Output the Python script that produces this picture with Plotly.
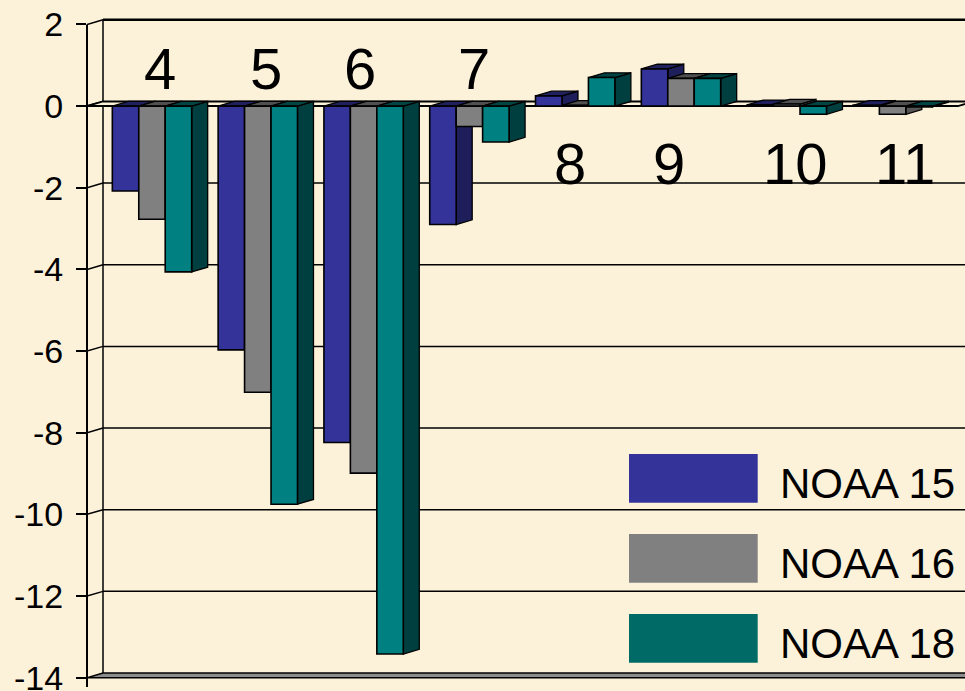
import plotly.graph_objects as go

# ---------------- data ----------------
channels = ["4", "5", "6", "7", "8", "9", "10", "11"]
series_names = ["NOAA 15", "NOAA 16", "NOAA 18"]
noaa15 = [-2.08, -5.97, -8.24, -2.90, 0.25, 0.91, 0.03, 0.02]
noaa16 = [-2.77, -7.01, -8.99, -0.50, 0.02, 0.68, 0.05, -0.20]
noaa18 = [-4.06, -9.75, -13.42, -0.88, 0.70, 0.68, -0.20, -0.02]
y_tick_vals = [2, 0, -2, -4, -6, -8, -10, -12, -14]
y_tick_text = ["2", "0", "-2", "-4", "-6", "-8", "-10", "-12", "-14"]

front_colors = ["#333399", "#808080", "#008080"]
side_colors = ["#1E1E5A", "#555555", "#003F3F"]
top_colors = ["#20205E", "#505050", "#004444"]
legend_colors = ["#333399", "#808080", "#006B66"]

series = [noaa15, noaa16, noaa18]

# ---------------- geometry (3D look) ----------------
BG = "#FCF2DA"
W, H = 965, 691
ML = 87
PX_PER_CAT = 105.8
CAT0_PX = 152.0
PX_PER_UNIT = 40.83
ZERO_PX = 106.1
# hand placement nudges of the channel labels (pixels), as in the original slide
label_nudge_px = [0, 0, -12, -3, -13, -20, 1, 4]

x_min = (ML - CAT0_PX) / PX_PER_CAT
x_max = (W - CAT0_PX) / PX_PER_CAT
y_max = ZERO_PX / PX_PER_UNIT
y_min = -(H - ZERO_PX) / PX_PER_UNIT

BAR_W = 0.25
OFFSETS = [-0.375, -0.125, 0.125]
DX = 16 / PX_PER_CAT
DY = 4.7 / PX_PER_UNIT
X_FRONT_RIGHT = (958 - CAT0_PX) / PX_PER_CAT
X_BACK_LEFT = x_min + DX
y_lo, y_hi = min(y_tick_vals), max(y_tick_vals)

fig = go.Figure()
for s, (name, vals) in enumerate(zip(series_names, series)):
    fig.add_trace(go.Bar(
        x=list(range(len(channels))), y=vals, name=name,
        width=BAR_W, offset=OFFSETS[s],
        marker=dict(color=front_colors[s], line=dict(color="black", width=1.6)),
        showlegend=False, hoverinfo="skip",
    ))

shapes = []
line_k = dict(color="black", width=1.5)

# back wall gridlines + left wall connectors
for v in y_tick_vals:
    if v == y_lo:
        continue
    if v != 0:
        shapes.append(dict(type="line", xref="x", yref="y", layer="below",
                           x0=X_BACK_LEFT, x1=x_max + 1, y0=v + DY, y1=v + DY,
                           line=dict(color="black", width=2.5 if v == y_hi else 1.5)))
    shapes.append(dict(type="line", xref="x", yref="y", layer="below",
                       x0=x_min, x1=X_BACK_LEFT, y0=v, y1=v + DY, line=line_k))
# left wall back edge
shapes.append(dict(type="line", xref="x", yref="y", layer="below",
                   x0=X_BACK_LEFT, x1=X_BACK_LEFT, y0=y_lo + DY, y1=y_hi + DY, line=line_k))
# floor
shapes.append(dict(type="path", xref="x", yref="y", layer="below",
                   path=f"M {x_min},{y_lo} L {x_max + 1},{y_lo} L {x_max + 1},{y_lo + DY} "
                        f"L {X_BACK_LEFT},{y_lo + DY} Z",
                   fillcolor="#8C8C8C", line=line_k))
# zero plane
shapes.append(dict(type="path", xref="x", yref="y", layer="below",
                   path=f"M {x_min},0 L {X_FRONT_RIGHT},0 L {X_FRONT_RIGHT + DX},{DY} "
                        f"L {X_BACK_LEFT},{DY} Z",
                   fillcolor=BG, line=dict(color="black", width=2)))
# bar sides and tops
for s, vals in enumerate(series):
    for i, v in enumerate(vals):
        xl = i + OFFSETS[s]
        xr = xl + BAR_W
        shapes.append(dict(type="path", xref="x", yref="y", layer="below",
                           path=f"M {xr},0 L {xr + DX},{DY} L {xr + DX},{v + DY} L {xr},{v} Z",
                           fillcolor=side_colors[s], line=dict(color="black", width=1.3)))
        t = max(v, 0)
        shapes.append(dict(type="path", xref="x", yref="y", layer="below",
                           path=f"M {xl},{t} L {xr},{t} L {xr + DX},{t + DY} L {xl + DX},{t + DY} Z",
                           fillcolor=top_colors[s], line=dict(color="black", width=1.3)))
# front axis line
shapes.append(dict(type="line", xref="paper", yref="y", layer="above",
                   x0=0, x1=0, y0=y_lo - 0.23, y1=y_hi, line=dict(color="black", width=2)))

annotations = []
# category labels
for i, ch in enumerate(channels):
    group_min = min(v[i] for v in series)
    above = group_min < -0.4
    annotations.append(dict(x=i + 0.076, y=0.91 if above else -1.40, xref="x", yref="y",
                            xshift=label_nudge_px[i],
                            text=ch, showarrow=False, xanchor="center", yanchor="middle",
                            font=dict(family="Liberation Sans, Arial", size=58, color="black")))

# custom legend
for k, name in enumerate(series_names):
    top_px = 454 + 80 * k
    shapes.append(dict(type="rect", xref="paper", yref="paper", layer="above",
                       x0=(629 - ML) / (W - ML), x1=(757.7 - ML) / (W - ML),
                       y0=1 - (top_px + 48.7) / H, y1=1 - top_px / H,
                       fillcolor=legend_colors[k], line=dict(width=0)))
    annotations.append(dict(x=(778 - ML) / (W - ML), y=1 - (top_px + 29) / H,
                            xref="paper", yref="paper", text=name, showarrow=False,
                            xanchor="left", yanchor="middle",
                            font=dict(family="Liberation Sans, Arial", size=42, color="black")))

fig.update_layout(
    width=W, height=H, autosize=False,
    margin=dict(l=ML, r=0, t=0, b=0, pad=0, autoexpand=False),
    paper_bgcolor=BG, plot_bgcolor=BG,
    barmode="overlay",
    shapes=shapes, annotations=annotations,
    xaxis=dict(range=[x_min, x_max], showgrid=False, zeroline=False, showline=False,
               showticklabels=False, ticks="", automargin=False),
    yaxis=dict(range=[y_min, y_max], showgrid=False, zeroline=False, showline=False,
               tickmode="array", tickvals=y_tick_vals, ticktext=y_tick_text,
               ticks="outside", ticklen=10, tickwidth=1.5, tickcolor="black",
               ticklabelstandoff=6, ticklabeloverflow="allow", automargin=False,
               tickfont=dict(family="Liberation Sans, Arial", size=34, color="black")),
)

fig.write_html("out.html", config={"displayModeBar": False},
               post_script="document.body.style.margin='0';document.body.style.overflow='hidden';"
                           "document.documentElement.style.background='" + BG + "';")
